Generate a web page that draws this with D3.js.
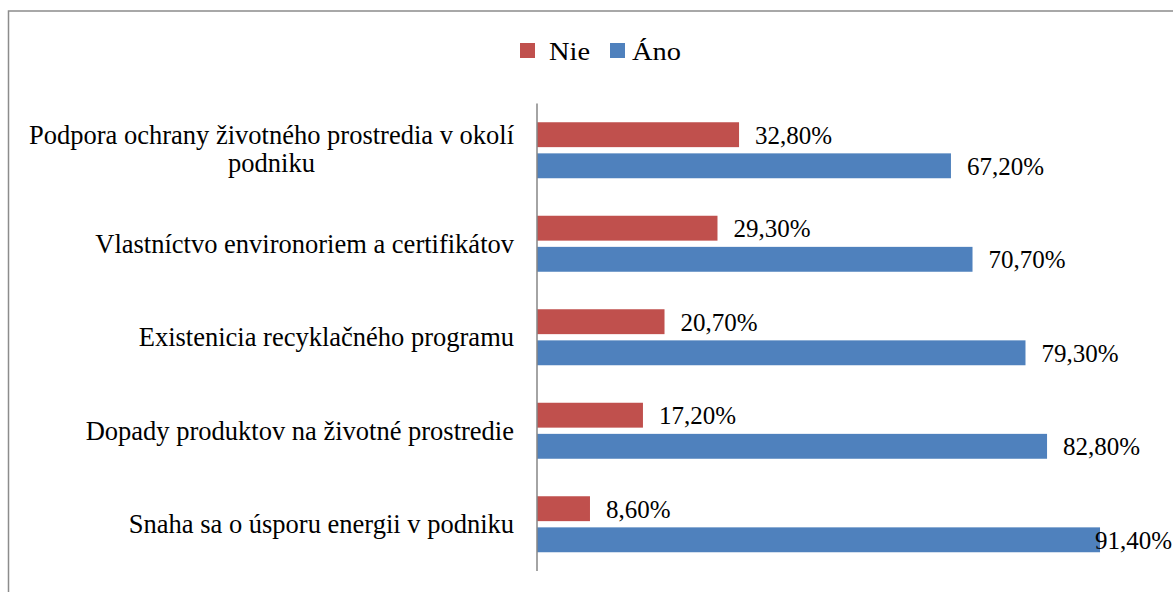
<!DOCTYPE html>
<html><head><meta charset="utf-8">
<script src="https://cdn.jsdelivr.net/npm/d3@7"></script></head>
<body style="margin:0">
<script>
const categories = [
  "Podpora ochrany životného prostredia v okolí podniku",
  "Vlastníctvo environoriem a certifikátov",
  "Existenicia recyklačného programu",
  "Dopady produktov na životné prostredie",
  "Snaha sa o úsporu energii v podniku"
];
const seriesNames = ["Nie", "Áno"];
const nieValues = [32.8, 29.3, 20.7, 17.2, 8.6];
const anoValues = [67.2, 70.7, 79.3, 82.8, 91.4];
const colors = ["#C0504D", "#4F81BD"];

const width = 1173;
const height = 592;
const axisX = 537;
const plotTop = 103.5;
const plotBottom = 571;
const fontFamily = '"Liberation Serif", "Times New Roman"';

const data = categories.map((c, i) => ({ name: c, values: [nieValues[i], anoValues[i]] }));

const svg = d3.select("body")
  .append("svg")
  .attr("width", width)
  .attr("height", height)
  .style("display", "block");

// outer frame of the chart area (right and bottom run off the picture)
svg.append("rect")
  .attr("x", 8.5)
  .attr("y", 11)
  .attr("width", width + 20)
  .attr("height", height + 20)
  .attr("fill", "none")
  .attr("stroke", "#8c8c8c")
  .attr("stroke-width", 1.5);

const x = d3.scaleLinear()
  .domain([0, 100])
  .range([axisX, axisX + 616]);

const y = d3.scaleBand()
  .domain(categories)
  .range([plotTop, plotBottom]);

const ySub = d3.scaleBand()
  .domain(seriesNames)
  .range([-28, 28])
  .paddingInner(0.2);

const groups = svg.append("g")
  .selectAll("g")
  .data(data)
  .join("g")
  .attr("transform", d => `translate(0,${y(d.name) + y.bandwidth() / 2})`);

groups.selectAll("rect")
  .data(d => d.values.map((v, j) => ({ series: seriesNames[j], value: v, idx: j })))
  .join("rect")
  .attr("x", x(0))
  .attr("y", d => ySub(d.series))
  .attr("width", d => x(d.value) - x(0))
  .attr("height", ySub.bandwidth())
  .attr("fill", d => colors[d.idx]);

// data labels, pulled back inside the frame when they would run off
groups.selectAll("text.val")
  .data(d => d.values.map((v, j) => ({ series: seriesNames[j], value: v })))
  .join("text")
  .attr("class", "val")
  .style("font-family", fontFamily)
  .attr("y", d => ySub(d.series) + ySub.bandwidth() / 2 + 9)
  .attr("font-size", 25)
  .attr("fill", "#000")
  .text(d => d3.format(".2f")(d.value).replace(".", ",") + "%")
  .attr("x", function (d) {
    const w = this.getComputedTextLength();
    return Math.min(x(d.value) + 16, width - 1 - w);
  });

// vertical category axis
svg.append("line")
  .attr("x1", axisX)
  .attr("x2", axisX)
  .attr("y1", plotTop)
  .attr("y2", plotBottom)
  .attr("stroke", "#868686")
  .attr("stroke-width", 1.5);

// category labels, wrapped at a fixed width, lines centred on each other
const labelRight = 514;
const labelMax = 495;
const labelSize = 26.5;
const lineGap = 28;
const labels = svg.append("g").attr("fill", "#000");

categories.forEach(c => {
  const cy = y(c) + y.bandwidth() / 2;
  const t = labels.append("text").attr("font-size", labelSize).style("font-family", fontFamily);
  const words = c.split(" ");
  const lines = [];
  let line = [];
  words.forEach(w => {
    line.push(w);
    t.text(line.join(" "));
    if (t.node().getComputedTextLength() > labelMax && line.length > 1) {
      line.pop();
      lines.push(line.join(" "));
      line = [w];
    }
  });
  lines.push(line.join(" "));
  t.text(lines[0]);
  const w0 = t.node().getComputedTextLength();
  t.remove();
  const mid = labelRight - w0 / 2;
  const y0 = cy - (lines.length - 1) * lineGap / 2 + (lines.length > 1 ? 8 : 9);
  lines.forEach((l, k) => {
    labels.append("text")
      .attr("font-size", labelSize)
      .style("font-family", fontFamily)
      .attr("x", mid)
      .attr("y", y0 + k * lineGap)
      .attr("text-anchor", "middle")
      .text(l);
  });
});

// legend (the original text is a little wider than its height suggests)
const legend = svg.append("g").attr("transform", "translate(520,43)");
const legendX = [0, 90];
seriesNames.forEach((s, i) => {
  legend.append("rect")
    .attr("x", legendX[i])
    .attr("y", 0)
    .attr("width", 15)
    .attr("height", 15)
    .attr("fill", colors[i]);
  legend.append("text")
    .style("font-family", fontFamily)
    .attr("transform", `translate(${legendX[i] + (i === 0 ? 29 : 22)},17) scale(1.16,1)`)
    .attr("font-size", 24.5)
    .attr("fill", "#000")
    .text(s);
});
</script>
</body>
</html>
